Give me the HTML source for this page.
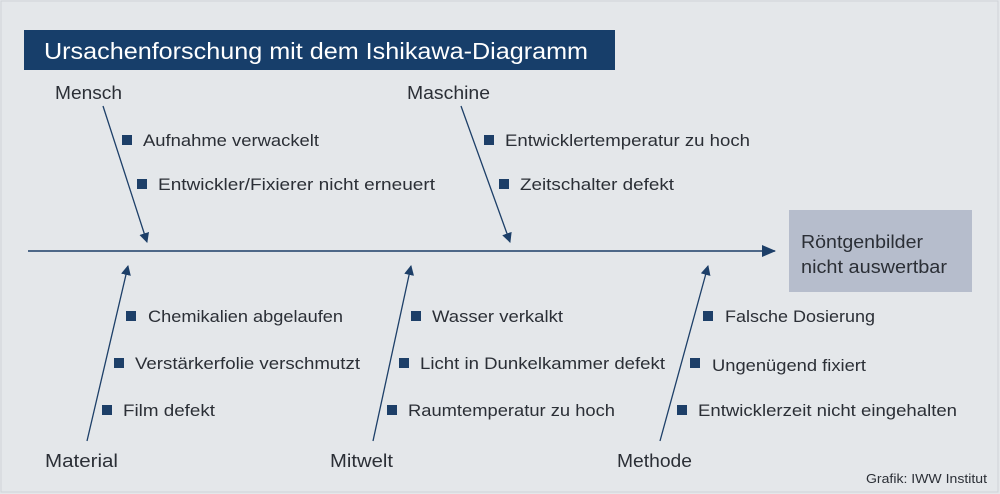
<!DOCTYPE html>
<html><head><meta charset="utf-8"><style>
html,body{margin:0;padding:0;background:#e4e7ea;}
svg{display:block;}
text{font-family:"Liberation Sans",sans-serif;fill:#2b2f36;}
</style></head><body>
<svg width="1000" height="494" viewBox="0 0 1000 494" xmlns="http://www.w3.org/2000/svg">
<defs><marker id="a" markerWidth="10" markerHeight="10" refX="9" refY="5" orient="auto" markerUnits="userSpaceOnUse"><path d="M0,0 L10,5 L0,10 Z" fill="#1d3f68"/></marker>
<marker id="b" markerWidth="14" markerHeight="12" refX="13" refY="6" orient="auto" markerUnits="userSpaceOnUse"><path d="M0,0 L14,6 L0,12 Z" fill="#1d3f68"/></marker></defs>
<rect x="0" y="0" width="1000" height="494" fill="#e4e7ea"/>
<rect x="1" y="1" width="997" height="491" fill="none" stroke="#cfd3d8"/>
<rect x="24" y="30" width="591" height="40" fill="#173e6a"/>
<text x="44" y="59" font-size="23" textLength="544" lengthAdjust="spacingAndGlyphs" style="fill:#fff">Ursachenforschung mit dem Ishikawa-Diagramm</text>
<line x1="28" y1="251" x2="775" y2="251" stroke="#1d3f68" stroke-width="1.5" marker-end="url(#b)"/>
<rect x="789" y="210" width="183" height="82" fill="#b6bdcc"/>
<text x="801" y="248" font-size="18" textLength="122" lengthAdjust="spacingAndGlyphs">Röntgenbilder</text>
<text x="801" y="273" font-size="18" textLength="146" lengthAdjust="spacingAndGlyphs">nicht auswertbar</text>
<g stroke="#1d3f68" stroke-width="1.3">
<line x1="103" y1="106" x2="147" y2="242" marker-end="url(#a)"/>
<line x1="461" y1="106" x2="510" y2="242" marker-end="url(#a)"/>
<line x1="87" y1="441" x2="128" y2="266" marker-end="url(#a)"/>
<line x1="373" y1="441" x2="411" y2="266" marker-end="url(#a)"/>
<line x1="660" y1="441" x2="708" y2="266" marker-end="url(#a)"/>
</g>
<g font-size="18" lengthAdjust="spacingAndGlyphs">
<text x="55" y="99" textLength="67" lengthAdjust="spacingAndGlyphs">Mensch</text>
<text x="407" y="99" textLength="83" lengthAdjust="spacingAndGlyphs">Maschine</text>
<text x="45" y="467" textLength="73" lengthAdjust="spacingAndGlyphs">Material</text>
<text x="330" y="467" textLength="63" lengthAdjust="spacingAndGlyphs">Mitwelt</text>
<text x="617" y="467" textLength="75" lengthAdjust="spacingAndGlyphs">Methode</text>
</g>
<g fill="#1d3f68">
<rect x="122" y="135" width="10" height="10"/>
<rect x="137" y="179" width="10" height="10"/>
<rect x="484" y="135" width="10" height="10"/>
<rect x="499" y="179" width="10" height="10"/>
<rect x="126" y="311" width="10" height="10"/>
<rect x="114" y="358" width="10" height="10"/>
<rect x="102" y="405" width="10" height="10"/>
<rect x="411" y="311" width="10" height="10"/>
<rect x="399" y="358" width="10" height="10"/>
<rect x="387" y="405" width="10" height="10"/>
<rect x="703" y="311" width="10" height="10"/>
<rect x="690" y="358" width="10" height="10"/>
<rect x="677" y="405" width="10" height="10"/>
</g>
<g font-size="17">
<text x="143" y="146" textLength="176" lengthAdjust="spacingAndGlyphs">Aufnahme verwackelt</text>
<text x="158" y="190" textLength="277" lengthAdjust="spacingAndGlyphs">Entwickler/Fixierer nicht erneuert</text>
<text x="505" y="146" textLength="245" lengthAdjust="spacingAndGlyphs">Entwicklertemperatur zu hoch</text>
<text x="520" y="190" textLength="154" lengthAdjust="spacingAndGlyphs">Zeitschalter defekt</text>
<text x="148" y="322" textLength="195" lengthAdjust="spacingAndGlyphs">Chemikalien abgelaufen</text>
<text x="135" y="369" textLength="225" lengthAdjust="spacingAndGlyphs">Verstärkerfolie verschmutzt</text>
<text x="123" y="416" textLength="92" lengthAdjust="spacingAndGlyphs">Film defekt</text>
<text x="432" y="322" textLength="131" lengthAdjust="spacingAndGlyphs">Wasser verkalkt</text>
<text x="420" y="369" textLength="245" lengthAdjust="spacingAndGlyphs">Licht in Dunkelkammer defekt</text>
<text x="408" y="416" textLength="207" lengthAdjust="spacingAndGlyphs">Raumtemperatur zu hoch</text>
<text x="725" y="322" textLength="150" lengthAdjust="spacingAndGlyphs">Falsche Dosierung</text>
<text x="712" y="371" textLength="154" lengthAdjust="spacingAndGlyphs">Ungenügend fixiert</text>
<text x="698" y="416" textLength="259" lengthAdjust="spacingAndGlyphs">Entwicklerzeit nicht eingehalten</text>
</g>
<text x="866" y="483" font-size="13" textLength="121" lengthAdjust="spacingAndGlyphs">Grafik: IWW Institut</text>
</svg>
</body></html>
